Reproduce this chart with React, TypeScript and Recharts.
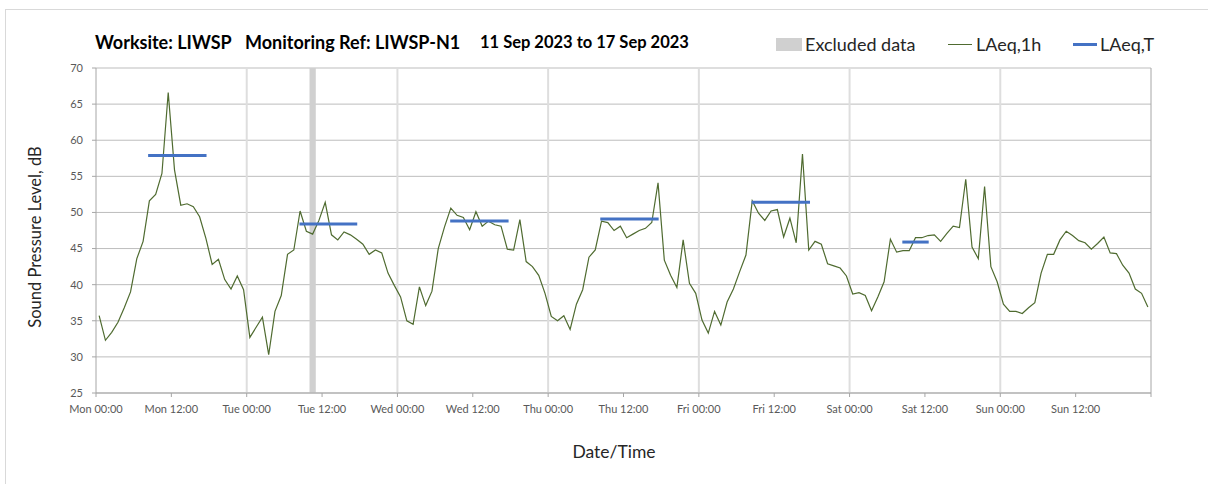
import React from 'react';
import {
  LineChart,
  Line,
  XAxis,
  YAxis,
  CartesianGrid,
  ReferenceArea,
  ReferenceLine,
} from 'recharts';

// Hourly LAeq,1h readings, Mon 00:00 .. Sun 23:00 (168 hours)
const laeq1h = [
  35.7, 32.3, 33.4, 34.8, 36.8, 39.0, 43.6, 46.0, 51.6, 52.5, 55.4, 66.6,
  55.9, 51.0, 51.2, 50.8, 49.4, 46.4, 42.8, 43.5, 40.7, 39.4, 41.2, 39.3,
  32.7, 34.1, 35.5, 30.3, 36.3, 38.5, 44.2, 44.8, 50.2, 47.4, 47.0, 48.9,
  51.4, 46.9, 46.2, 47.3, 46.9, 46.3, 45.6, 44.2, 44.8, 44.4, 41.6, 39.9,
  38.3, 35.0, 34.5, 39.7, 37.1, 39.1, 45.0, 48.0, 50.6, 49.6, 49.3, 47.6,
  50.1, 48.1, 48.8, 48.3, 48.1, 44.9, 44.8, 49.0, 43.2, 42.5, 41.3, 38.8,
  35.6, 35.0, 35.7, 33.8, 37.3, 39.3, 43.8, 44.8, 48.8, 48.6, 47.5, 48.1,
  46.5, 47.0, 47.5, 47.8, 48.6, 54.1, 43.4, 41.3, 39.6, 46.2, 40.2, 38.8,
  35.1, 33.3, 36.3, 34.4, 37.6, 39.4, 41.8, 44.1, 51.6, 49.9, 48.9, 50.2,
  50.4, 46.6, 49.2, 45.8, 58.1, 44.8, 46.0, 45.6, 42.9, 42.6, 42.3, 41.2,
  38.7, 38.9, 38.5, 36.4, 38.3, 40.4, 46.3, 44.5, 44.7, 44.7, 46.5, 46.5,
  46.8, 46.9, 46.0, 47.1, 48.1, 47.9, 54.6, 45.2, 43.6, 53.6, 42.5, 40.4,
  37.3, 36.3, 36.3, 36.0, 36.8, 37.5, 41.6, 44.2, 44.2, 46.2, 47.4, 46.8,
  46.1, 45.8, 44.9, 45.7, 46.6, 44.4, 44.3, 42.7, 41.6, 39.4, 38.8, 36.9,
];

// LAeq,T daytime periods (hours from Mon 00:00)
const periodStart = [8.3, 32.4, 56.4, 80.3, 104.4, 128.4];
const periodEnd = [17.6, 41.6, 65.7, 89.6, 113.7, 132.6];
const periodLevel = [57.9, 48.4, 48.8, 49.1, 51.4, 45.9];

// Excluded data window (hours)
const excludedStart = 34;
const excludedEnd = 35;

const tickHours = [0, 12, 24, 36, 48, 60, 72, 84, 96, 108, 120, 132, 144, 156, 168];
const tickLabels = [
  'Mon 00:00', 'Mon 12:00', 'Tue 00:00', 'Tue 12:00', 'Wed 00:00', 'Wed 12:00',
  'Thu 00:00', 'Thu 12:00', 'Fri 00:00', 'Fri 12:00', 'Sat 00:00', 'Sat 12:00',
  'Sun 00:00', 'Sun 12:00', '',
];
const dayLines = [24, 48, 72, 96, 120, 144];
const yTicks = [25, 30, 35, 40, 45, 50, 55, 60, 65, 70];

const FONT = 'Lato, "Open Sans", sans-serif';

const titleStyle: React.CSSProperties = {
  position: 'absolute',
  top: 31,
  fontWeight: 700,
  color: '#000',
  whiteSpace: 'nowrap',
  lineHeight: '22px',
};

const legendText: React.CSSProperties = {
  position: 'absolute',
  top: 33,
  fontSize: 18,
  lineHeight: '22px',
  color: '#262626',
  whiteSpace: 'nowrap',
};

export default function App() {
  // each hourly value is plotted at the middle of its hour
  const chartData = laeq1h.map((v, i) => ({ h: i + 0.5, v }));

  return (
    <div
      style={{
        position: 'absolute',
        left: 0,
        top: 0,
        width: 1208,
        height: 484,
        background: '#fff',
        fontFamily: FONT,
        overflow: 'hidden',
      }}
    >
      {/* outer frame */}
      <div
        style={{
          position: 'absolute',
          left: 5,
          top: 9,
          width: 1220,
          height: 500,
          border: '1px solid #d9d9d9',
        }}
      />

      {/* title */}
      <div style={{ ...titleStyle, left: 95, fontSize: 18 }}>Worksite: LIWSP</div>
      <div style={{ ...titleStyle, left: 245, fontSize: 18 }}>Monitoring Ref: LIWSP-N1</div>
      <div style={{ ...titleStyle, left: 480, fontSize: 16.5 }}>11 Sep 2023 to 17 Sep 2023</div>

      {/* legend */}
      <div style={{ position: 'absolute', left: 776, top: 38, width: 26, height: 13, background: '#d0d0d0' }} />
      <div style={{ ...legendText, left: 805 }}>Excluded data</div>
      <div style={{ position: 'absolute', left: 948, top: 44, width: 24, height: 1, background: '#4f6b30' }} />
      <div style={{ ...legendText, left: 976 }}>LAeq,1h</div>
      <div style={{ position: 'absolute', left: 1073, top: 43, width: 24, height: 3, background: '#4472C4' }} />
      <div style={{ ...legendText, left: 1100 }}>LAeq,T</div>

      {/* axis titles */}
      <div
        style={{
          position: 'absolute',
          left: 35,
          top: 237,
          transform: 'translate(-50%, -50%) rotate(-90deg)',
          fontSize: 16.5,
          color: '#262626',
          whiteSpace: 'nowrap',
        }}
      >
        Sound Pressure Level, dB
      </div>
      <div
        style={{
          position: 'absolute',
          left: 614,
          top: 451,
          transform: 'translate(-50%, -50%)',
          fontSize: 17.5,
          color: '#262626',
          whiteSpace: 'nowrap',
        }}
      >
        Date/Time
      </div>

      <div style={{ position: 'absolute', left: 0, top: 0 }}>
        <LineChart
          width={1208}
          height={484}
          data={chartData}
          margin={{ top: 68, right: 57, left: 0, bottom: 61 }}
        >
          <CartesianGrid horizontal vertical={false} stroke="#bdbdbd" />

          {dayLines.map((d) => (
            <ReferenceLine key={d} x={d} stroke="#dedede" strokeWidth={2} />
          ))}
          <ReferenceLine x={168} stroke="#a6a6a6" />

          <ReferenceArea
            x1={excludedStart}
            x2={excludedEnd}
            y1={25}
            y2={70}
            fill="#d0d0d0"
            fillOpacity={1}
            stroke="none"
          />

          <XAxis
            dataKey="h"
            type="number"
            domain={[0, 168]}
            ticks={tickHours}
            tickFormatter={(h: number) => tickLabels[tickHours.indexOf(h)] ?? ''}
            interval={0}
            height={30}
            tickSize={4}
            tickMargin={8}
            stroke="#a6a6a6"
            tick={{ fill: '#595959', fontSize: 11, fontFamily: FONT }}
          />
          <YAxis
            type="number"
            domain={[25, 70]}
            ticks={yTicks}
            interval={0}
            width={96}
            tickSize={4}
            tickMargin={9}
            stroke="#a6a6a6"
            tick={{ fill: '#595959', fontSize: 11, fontFamily: FONT }}
          />

          <Line
            type="linear"
            dataKey="v"
            stroke="#4f6b30"
            strokeWidth={1.2}
            dot={false}
            activeDot={false}
            isAnimationActive={false}
          />

          {periodLevel.map((lvl, i) => (
            <ReferenceLine
              key={i}
              segment={[
                { x: periodStart[i], y: lvl },
                { x: periodEnd[i], y: lvl },
              ]}
              stroke="#4472C4"
              strokeWidth={3}
            />
          ))}
        </LineChart>
      </div>
    </div>
  );
}
